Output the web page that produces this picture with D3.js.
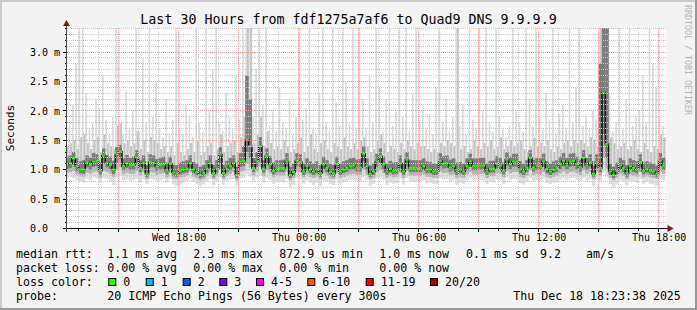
<!doctype html>
<html>
<head>
<script src="https://cdnjs.cloudflare.com/ajax/libs/d3/7.8.5/d3.min.js"></script>
<style>
  body { margin: 0; background: #f3f3f3; }
  svg { display: block; }
  text { font-family: "DejaVu Sans Mono", monospace; fill: #000; }
</style>
</head>
<body>
<svg></svg>
<script>
// ---- data (ms), one sample every 10 minutes from Wed 12:20 UTC ----
var med = [
  1.08,1.11,1.19,1.06,1.00,1.00,1.13,1.08,1.14,1.15,
  0.98,1.24,1.12,1.08,1.00,1.26,1.31,1.06,1.11,1.08,
  1.08,1.21,1.03,1.12,0.93,1.13,1.12,1.05,1.08,1.09,
  0.98,1.10,0.95,0.94,0.98,1.00,1.02,1.11,1.00,0.96,
  0.91,0.94,1.02,1.11,0.94,1.02,1.26,0.94,1.02,1.06,
  1.11,0.91,1.14,1.15,1.51,1.40,1.03,1.14,1.40,1.02,
  1.23,1.09,0.98,1.03,1.03,1.03,1.14,0.91,0.96,1.15,
  1.13,0.97,1.06,1.00,0.97,1.00,0.94,1.09,1.03,0.96,
  0.94,1.09,0.97,1.00,1.03,1.06,1.07,1.04,1.04,1.27,
  1.06,0.93,0.97,1.14,1.23,1.09,0.97,1.02,0.98,0.99,
  1.11,0.97,1.17,1.03,1.03,1.03,1.03,1.06,1.00,1.00,
  0.97,0.97,1.15,1.10,1.11,1.04,1.06,0.97,1.00,0.97,
  1.06,1.14,1.06,1.06,1.07,1.07,0.97,1.02,1.02,1.10,
  1.07,0.98,1.17,1.09,1.14,1.14,1.00,0.97,1.03,1.20,
  1.04,1.07,1.06,1.14,1.01,0.97,1.00,1.03,1.09,1.15,
  1.07,1.14,1.15,1.09,1.04,1.20,1.07,1.13,0.93,1.13,
  1.03,2.31,1.44,0.97,0.91,0.98,1.07,1.03,0.94,1.06,
  1.03,1.00,1.13,0.98,1.01,0.98,0.97,0.93,1.15,1.07
];
var q3 = [
  1.22,1.24,1.30,1.20,1.14,1.16,1.24,1.20,1.28,1.26,
  1.12,1.36,1.25,1.22,1.15,1.38,1.42,1.19,1.25,1.20,
  1.22,1.33,1.16,1.24,1.08,1.26,1.24,1.18,1.20,1.22,
  1.12,1.22,1.08,1.08,1.12,1.14,1.16,1.24,1.13,1.10,
  1.05,1.08,1.16,1.24,1.08,1.16,1.38,1.08,1.15,1.20,
  1.24,1.05,1.28,1.40,2.60,2.20,1.20,1.30,1.55,1.16,
  1.36,1.22,1.12,1.16,1.16,1.17,1.28,1.05,1.10,1.28,
  1.26,1.10,1.19,1.14,1.10,1.14,1.08,1.22,1.16,1.10,
  1.08,1.22,1.10,1.14,1.16,1.19,1.20,1.17,1.18,1.40,
  1.19,1.07,1.10,1.27,1.36,1.22,1.10,1.15,1.12,1.13,
  1.24,1.10,1.30,1.16,1.16,1.16,1.16,1.19,1.14,1.13,
  1.10,1.10,1.28,1.23,1.24,1.17,1.19,1.12,1.13,1.10,
  1.19,1.27,1.19,1.19,1.20,1.20,1.10,1.15,1.15,1.23,
  1.20,1.12,1.30,1.22,1.27,1.27,1.14,1.10,1.16,1.33,
  1.17,1.20,1.19,1.27,1.14,1.10,1.14,1.16,1.22,1.28,
  1.20,1.27,1.28,1.22,1.17,1.33,1.20,1.26,1.07,1.26,
  2.80,3.41,3.41,1.10,1.05,1.12,1.20,1.16,1.08,1.19,
  1.16,1.14,1.26,1.12,1.14,1.12,1.10,1.07,1.28,1.20
];
var q1 = [
  1.00,1.03,1.08,0.98,0.94,0.93,1.04,1.00,1.05,1.06,
  0.92,1.10,1.04,1.00,0.93,1.12,1.18,0.99,1.03,1.00,
  1.00,1.10,0.96,1.04,0.88,1.04,1.04,0.98,1.00,1.01,
  0.92,1.02,0.89,0.88,0.92,0.94,0.95,1.03,0.94,0.90,
  0.86,0.88,0.95,1.03,0.88,0.95,1.12,0.88,0.95,0.99,
  1.03,0.86,1.05,1.06,1.30,1.20,0.96,1.05,1.22,0.95,
  1.10,1.01,0.92,0.96,0.96,0.96,1.05,0.86,0.90,1.06,
  1.04,0.91,0.99,0.94,0.91,0.94,0.88,1.01,0.96,0.90,
  0.88,1.01,0.91,0.94,0.96,0.99,1.00,0.97,0.97,1.14,
  0.99,0.88,0.91,1.05,1.11,1.01,0.91,0.95,0.92,0.93,
  1.03,0.91,1.07,0.96,0.96,0.96,0.96,0.99,0.94,0.94,
  0.91,0.91,1.06,1.02,1.03,0.97,0.99,0.91,0.94,0.91,
  0.99,1.05,0.99,0.99,1.00,1.00,0.91,0.95,0.95,1.02,
  1.00,0.92,1.07,1.01,1.05,1.05,0.94,0.91,0.96,1.09,
  0.97,1.00,0.99,1.05,0.94,0.91,0.94,0.96,1.01,1.06,
  1.00,1.05,1.06,1.01,0.97,1.09,1.00,1.04,0.88,1.04,
  0.96,1.60,1.20,0.91,0.86,0.92,1.00,0.96,0.88,0.99,
  0.96,0.94,1.04,0.92,0.95,0.92,0.91,0.88,1.06,1.00
];
var p90 = [
  1.40,1.45,1.50,1.35,1.55,1.60,1.45,1.35,1.50,1.55,
  1.30,1.60,1.45,1.40,1.35,1.75,1.80,1.45,1.50,1.40,
  1.45,1.65,1.35,1.50,1.30,1.55,1.50,1.45,1.35,1.40,
  1.30,1.40,1.25,1.45,1.30,1.25,1.35,1.45,1.30,1.50,
  1.25,1.30,1.40,1.45,1.25,1.35,1.60,1.30,1.40,1.45,
  1.50,1.30,1.55,1.90,3.41,3.41,1.45,1.60,1.90,1.40,
  1.65,1.45,1.35,1.40,1.35,1.50,1.40,1.30,1.35,1.45,
  1.55,1.30,1.40,1.60,1.35,1.30,1.45,1.50,1.35,1.30,
  1.45,1.40,1.35,1.55,1.40,1.35,1.45,1.35,1.50,1.55,
  1.40,1.30,1.35,1.50,1.60,1.45,1.30,1.40,1.35,1.30,
  1.45,1.35,1.50,1.40,1.35,1.45,1.40,1.40,1.35,1.30,
  1.35,1.30,1.45,1.40,1.50,1.45,1.40,3.41,1.35,1.40,
  1.30,1.35,1.50,1.40,1.35,1.45,1.40,1.50,1.35,1.40,
  1.55,1.35,1.40,1.50,1.40,1.45,1.50,1.35,1.30,1.40,
  1.55,1.40,1.45,1.40,1.50,1.35,1.30,1.40,1.35,1.45,
  1.50,1.40,1.50,1.45,1.50,1.45,1.40,1.55,1.50,1.40,
  3.41,3.41,3.41,1.55,1.45,1.35,1.40,1.45,1.35,1.40,
  1.50,1.35,1.30,1.45,1.35,1.30,1.40,1.35,1.60,1.55
];
var p10 = [
  0.94,0.96,0.98,0.92,0.89,0.88,0.95,0.93,0.96,0.97,
  0.87,0.98,0.96,0.93,0.88,1.00,1.04,0.92,0.95,0.93,
  0.93,0.98,0.90,0.96,0.84,0.96,0.95,0.91,0.93,0.94,
  0.87,0.95,0.85,0.84,0.87,0.88,0.90,0.96,0.88,0.85,
  0.82,0.84,0.90,0.96,0.84,0.90,1.00,0.84,0.90,0.93,
  0.96,0.82,0.97,0.98,1.10,1.04,0.90,0.97,1.05,0.89,
  0.99,0.94,0.87,0.90,0.90,0.90,0.97,0.82,0.86,0.97,
  0.96,0.87,0.92,0.88,0.86,0.88,0.84,0.94,0.90,0.85,
  0.84,0.94,0.86,0.88,0.90,0.92,0.93,0.91,0.91,1.00,
  0.92,0.84,0.86,0.96,1.00,0.94,0.86,0.89,0.87,0.88,
  0.95,0.86,0.98,0.90,0.90,0.90,0.90,0.92,0.88,0.88,
  0.86,0.86,0.97,0.94,0.95,0.91,0.92,0.86,0.88,0.86,
  0.92,0.96,0.92,0.92,0.93,0.93,0.86,0.89,0.89,0.94,
  0.93,0.87,0.98,0.94,0.96,0.96,0.88,0.86,0.90,0.99,
  0.91,0.93,0.92,0.96,0.88,0.86,0.88,0.90,0.94,0.97,
  0.93,0.96,0.97,0.94,0.91,0.99,0.93,0.96,0.84,0.96,
  0.90,1.20,1.02,0.86,0.82,0.87,0.93,0.90,0.84,0.92,
  0.90,0.88,0.96,0.87,0.89,0.87,0.86,0.84,0.97,0.93
];
var lo = [
  0.85,0.88,0.86,0.82,0.80,0.78,0.84,0.83,0.87,0.85,
  0.78,0.86,0.84,0.80,0.74,0.86,0.90,0.82,0.84,0.81,
  0.82,0.85,0.78,0.84,0.76,0.85,0.83,0.80,0.82,0.84,
  0.78,0.84,0.75,0.72,0.74,0.78,0.80,0.85,0.79,0.76,
  0.72,0.75,0.80,0.84,0.74,0.79,0.86,0.74,0.80,0.83,
  0.84,0.73,0.85,0.86,0.92,0.88,0.80,0.86,0.90,0.78,
  0.86,0.82,0.76,0.80,0.79,0.78,0.85,0.70,0.74,0.85,
  0.84,0.76,0.82,0.78,0.74,0.78,0.72,0.82,0.80,0.76,
  0.74,0.83,0.76,0.79,0.80,0.82,0.83,0.81,0.80,0.87,
  0.82,0.72,0.76,0.85,0.86,0.83,0.74,0.78,0.76,0.77,
  0.84,0.75,0.86,0.80,0.79,0.80,0.78,0.82,0.77,0.78,
  0.76,0.75,0.85,0.83,0.84,0.80,0.82,0.74,0.78,0.76,
  0.82,0.85,0.81,0.82,0.83,0.82,0.75,0.79,0.78,0.83,
  0.82,0.76,0.86,0.83,0.85,0.84,0.77,0.75,0.79,0.86,
  0.80,0.82,0.81,0.85,0.77,0.75,0.78,0.79,0.83,0.85,
  0.82,0.85,0.86,0.83,0.80,0.86,0.82,0.84,0.72,0.84,
  0.80,0.95,0.88,0.75,0.70,0.76,0.82,0.80,0.73,0.81,
  0.80,0.78,0.84,0.76,0.79,0.76,0.75,0.72,0.85,0.82
];
var hi = [
  1.95,1.75,2.10,2.80,3.41,3.41,2.30,1.70,1.80,2.20,
  2.05,2.60,1.85,1.60,1.90,3.41,1.75,1.60,2.35,1.70,
  2.00,3.41,1.65,2.90,1.80,3.41,1.90,2.50,1.70,1.55,
  2.20,1.60,1.85,3.41,1.70,1.60,2.10,1.90,1.55,3.41,
  1.80,1.65,3.41,2.00,2.70,3.41,1.80,1.65,2.30,1.90,
  1.70,2.60,1.85,3.41,3.41,3.41,1.90,2.70,3.41,2.10,
  3.41,1.75,2.00,1.65,2.40,1.80,1.70,2.20,1.60,1.90,
  3.41,1.85,2.05,3.41,1.70,1.60,2.30,3.41,1.80,1.65,
  3.41,2.15,1.75,3.41,2.50,1.80,3.41,1.70,3.41,2.20,
  1.70,2.60,1.80,3.41,2.40,1.65,2.20,3.41,1.75,2.00,
  3.41,1.90,3.41,1.65,2.30,3.41,1.85,2.10,1.70,1.95,
  1.60,2.40,3.41,1.80,2.20,1.65,1.90,3.41,1.75,2.10,
  1.60,3.41,1.85,1.70,3.41,2.00,3.41,1.80,1.65,3.41,
  1.90,1.70,1.55,1.75,3.41,2.00,1.80,1.65,3.41,2.20,
  1.75,3.41,1.90,1.70,2.30,1.85,3.41,1.60,1.95,2.10,
  1.70,3.41,1.80,2.40,3.41,1.75,1.90,1.70,2.00,1.85,
  3.41,3.41,3.41,2.30,1.65,1.80,3.41,1.70,2.20,3.41,
  1.75,1.90,2.00,2.60,1.80,3.41,2.80,2.40,1.90,1.75
];

var yTicks = [0, 0.5, 1.0, 1.5, 2.0, 2.5, 3.0];
var yLabels = ["0.0", "0.5 m", "1.0 m", "1.5 m", "2.0 m", "2.5 m", "3.0 m"];
var xTickTimes = [Date.UTC(2025,11,17,18), Date.UTC(2025,11,18,0), Date.UTC(2025,11,18,6), Date.UTC(2025,11,18,12), Date.UTC(2025,11,18,18)];
var xLabels = ["Wed 18:00", "Thu 00:00", "Thu 06:00", "Thu 12:00", "Thu 18:00"];

var titleText = "Last 30 Hours from fdf1275a7af6 to Quad9 DNS 9.9.9.9";
var rttLine = ["median rtt:", "1.1 ms avg", "2.3 ms max", "872.9 us min", "1.0 ms now", "0.1 ms sd", "9.2", "am/s"];
var lossLine = ["packet loss:", "0.00 % avg", "0.00 % max", "0.00 % min", "0.00 % now"];
var lossLabels = ["0", "1", "2", "3", "4-5", "6-10", "11-19", "20/20"];
var probeLine = ["probe:", "20 ICMP Echo Pings (56 Bytes) every 300s", "Thu Dec 18 18:23:38 2025"];

var lossColors = ["#26ff00", "#00b8ff", "#0059ff", "#7e00ff", "#ff00ff", "#ff5500", "#ff0000", "#a10000"];

// ---- layout ----
var width = 697, height = 310;
var plotL = 66.5, plotR = 666.5, plotT = 28, plotB = 228.5;
var startTime = Date.UTC(2025,11,17,12,23,38), endTime = Date.UTC(2025,11,18,18,23,38);
var sampleStart = Date.UTC(2025,11,17,12,20), step = 10 * 60 * 1000;

var svg = d3.select("svg").attr("width", width).attr("height", height);

// background + 3d frame
svg.append("rect").attr("width", width).attr("height", height).attr("fill", "#f3f3f3");
svg.append("rect").attr("x", 0).attr("y", 0).attr("width", width).attr("height", 2).attr("fill", "#cbcbcb");
svg.append("rect").attr("x", 0).attr("y", 0).attr("width", 2).attr("height", height).attr("fill", "#cbcbcb");
svg.append("rect").attr("x", 0).attr("y", height - 2).attr("width", width).attr("height", 2).attr("fill", "#999");
svg.append("rect").attr("x", width - 2).attr("y", 0).attr("width", 2).attr("height", height).attr("fill", "#999");

var x = d3.scaleUtc().domain([startTime, endTime]).range([plotL, plotR]);
var y = d3.scaleLinear().domain([0, 3.4]).range([plotB, plotB - 200]);

svg.append("rect").attr("x", plotL).attr("y", plotT).attr("width", plotR - plotL).attr("height", plotB - plotT).attr("fill", "#fff");

svg.append("clipPath").attr("id", "clip").append("rect")
  .attr("x", plotL).attr("y", plotT).attr("width", plotR - plotL).attr("height", plotB - plotT);

var g = svg.append("g").attr("clip-path", "url(#clip)");

var samples = med.map(function(m, i) {
  return { t0: sampleStart + i * step, t1: sampleStart + (i + 1) * step, i: i };
});

// part: 0 = whole sample, 1 = first half, 2 = second half
function band(lower, upper, color, part) {
  g.append("g").selectAll("rect").data(samples).enter().append("rect")
    .attr("x", function(d) {
      var a = x(d.t0), b = x(d.t1);
      return part === 2 ? (a + b) / 2 : a;
    })
    .attr("width", function(d) {
      var w = x(d.t1) - x(d.t0);
      return (part ? w / 2 : w) + 0.02;
    })
    .attr("y", function(d) { return y(upper[d.i]); })
    .attr("height", function(d) { return Math.max(0, y(lower[d.i]) - y(upper[d.i])); })
    .attr("fill", color);
}
band(lo, p90, "#dedede", 0);
band(p90, hi, "#dadada", 1);
band(p10, p90, "#c2c2c2", 2);
band(p10, q3, "#b4b4b4", 0);
band(q1, q3, "#7c7c7c", 0);

// median line (step)
var pts = samples.map(function(d) { return [d.t0, med[d.i]]; });
pts.push([samples[samples.length - 1].t1, med[med.length - 1]]);
g.append("path").datum(pts)
  .attr("d", d3.line().x(function(d) { return x(d[0]); }).y(function(d) { return y(d[1]); }).curve(d3.curveStepAfter))
  .attr("fill", "none").attr("stroke", "#111").attr("stroke-width", 1.5);

g.append("g").selectAll("rect").data(samples).enter().append("rect")
  .attr("x", function(d) { return x(d.t0); })
  .attr("width", function(d) { return x(d.t1) - x(d.t0); })
  .attr("y", function(d) { return y(med[d.i]) - 1; })
  .attr("height", 2)
  .attr("fill", lossColors[0]);

// grid (drawn on top, dotted)
var grid = svg.append("g").attr("shape-rendering", "crispEdges");
var minorY = d3.range(1, 35).map(function(k) { return k / 10; });
minorY.forEach(function(v) {
  var major = Math.abs(v * 2 - Math.round(v * 2)) < 1e-6;
  var yy = Math.floor(y(v)) + 0.5;
  grid.append("line").attr("x1", plotL).attr("x2", plotR).attr("y1", yy).attr("y2", yy)
    .attr("stroke", major ? "#f29a9a" : "#c9c9c9").attr("stroke-dasharray", "1,1");
});
x.ticks(d3.utcHour.every(1)).forEach(function(t) {
  var major = t.getUTCHours() % 3 === 0;
  var xx = Math.floor(x(t)) + 0.5;
  grid.append("line").attr("x1", xx).attr("x2", xx).attr("y1", plotT).attr("y2", plotB)
    .attr("stroke", major ? "#f29a9a" : "#c9c9c9").attr("stroke-dasharray", "1,1");
  grid.append("line").attr("x1", xx).attr("x2", xx).attr("y1", plotB).attr("y2", plotB + (major ? 3 : 2))
    .attr("stroke", "#000");
});
minorY.concat([0]).forEach(function(v) {
  var major = Math.abs(v * 2 - Math.round(v * 2)) < 1e-6;
  var yy = Math.floor(y(v)) + 0.5;
  grid.append("line").attr("x1", plotL - (major ? 4 : 2)).attr("x2", plotL).attr("y1", yy).attr("y2", yy)
    .attr("stroke", "#000");
});

// axes lines + arrows
var axY = Math.floor(y(0)) + 0.5;
grid.append("line").attr("x1", plotL - 4).attr("x2", plotR + 3).attr("y1", axY).attr("y2", axY).attr("stroke", "#000");
grid.append("line").attr("x1", plotL).attr("x2", plotL).attr("y1", plotB + 3).attr("y2", plotT - 3).attr("stroke", "#444");
svg.append("path").attr("d", "M" + (plotR + 1) + "," + (axY - 3.5) + "L" + (plotR + 7) + "," + axY + "L" + (plotR + 1) + "," + (axY + 3.5) + "Z").attr("fill", "#8b1010");
svg.append("path").attr("d", "M" + (plotL - 3.5) + "," + (plotT - 2) + "L" + plotL + "," + (plotT - 8) + "L" + (plotL + 3.5) + "," + (plotT - 2) + "Z").attr("fill", "#8b1010");

// axis labels via d3 axes
var yAxis = svg.append("g").attr("transform", "translate(" + plotL + ",0)")
  .call(d3.axisLeft(y).tickValues(yTicks).tickFormat(function(d, i) { return yLabels[i]; }).tickSize(0));
yAxis.select(".domain").remove();
yAxis.selectAll("text").attr("text-anchor", "start").attr("x", -36.5).attr("font-size", "10px")
  .style("font-family", "DejaVu Sans Mono").attr("fill", "#000");

var xAxis = svg.append("g").attr("transform", "translate(0," + plotB + ")")
  .call(d3.axisBottom(x).tickValues(xTickTimes).tickFormat(function(d, i) { return xLabels[i]; }).tickSize(0));
xAxis.select(".domain").remove();
xAxis.selectAll("text").attr("y", 12).attr("dy", 0).attr("font-size", "10px")
  .style("font-family", "DejaVu Sans Mono").attr("fill", "#000");

// title, y title, watermark
svg.append("text").attr("x", 348.5).attr("y", 23.5).attr("text-anchor", "middle")
  .attr("font-size", "13.3px").text(titleText);
svg.append("text").attr("transform", "translate(14,128) rotate(-90)").attr("text-anchor", "middle")
  .attr("font-size", "11px").text("Seconds");
svg.append("text").attr("transform", "translate(684.5,5) rotate(90)").attr("text-anchor", "start")
  .attr("font-size", "8.3px").style("fill", "#b4b4b4").text("RRDTOOL / TOBI OETIKER");

// legend
var lf = "11.6px";
var rttX = [16, 107.3, 193.3, 279.3, 379.3, 466, 540, 586];
rttLine.forEach(function(s, i) {
  svg.append("text").attr("x", rttX[i]).attr("y", 258).attr("font-size", lf).text(s);
});
var lossX = [16, 107.3, 193.3, 279.3, 379.3];
lossLine.forEach(function(s, i) {
  svg.append("text").attr("x", lossX[i]).attr("y", 272).attr("font-size", lf).text(s);
});
svg.append("text").attr("x", 16).attr("y", 286).attr("font-size", lf).text("loss color:");
var boxX = [108.3, 145.7, 182.7, 219.3, 256, 307.3, 365.7, 430];
lossLabels.forEach(function(s, i) {
  svg.append("rect").attr("x", boxX[i] + 0.5).attr("y", 278.5).attr("width", 7).attr("height", 7)
    .attr("fill", lossColors[i]).attr("stroke", "#000").attr("stroke-width", 1);
  svg.append("text").attr("x", boxX[i] + 15).attr("y", 286).attr("font-size", lf).text(s);
});
var probeX = [16, 107.3, 513.3];
probeLine.forEach(function(s, i) {
  svg.append("text").attr("x", probeX[i]).attr("y", 300).attr("font-size", lf).text(s);
});
</script>
</body>
</html>
